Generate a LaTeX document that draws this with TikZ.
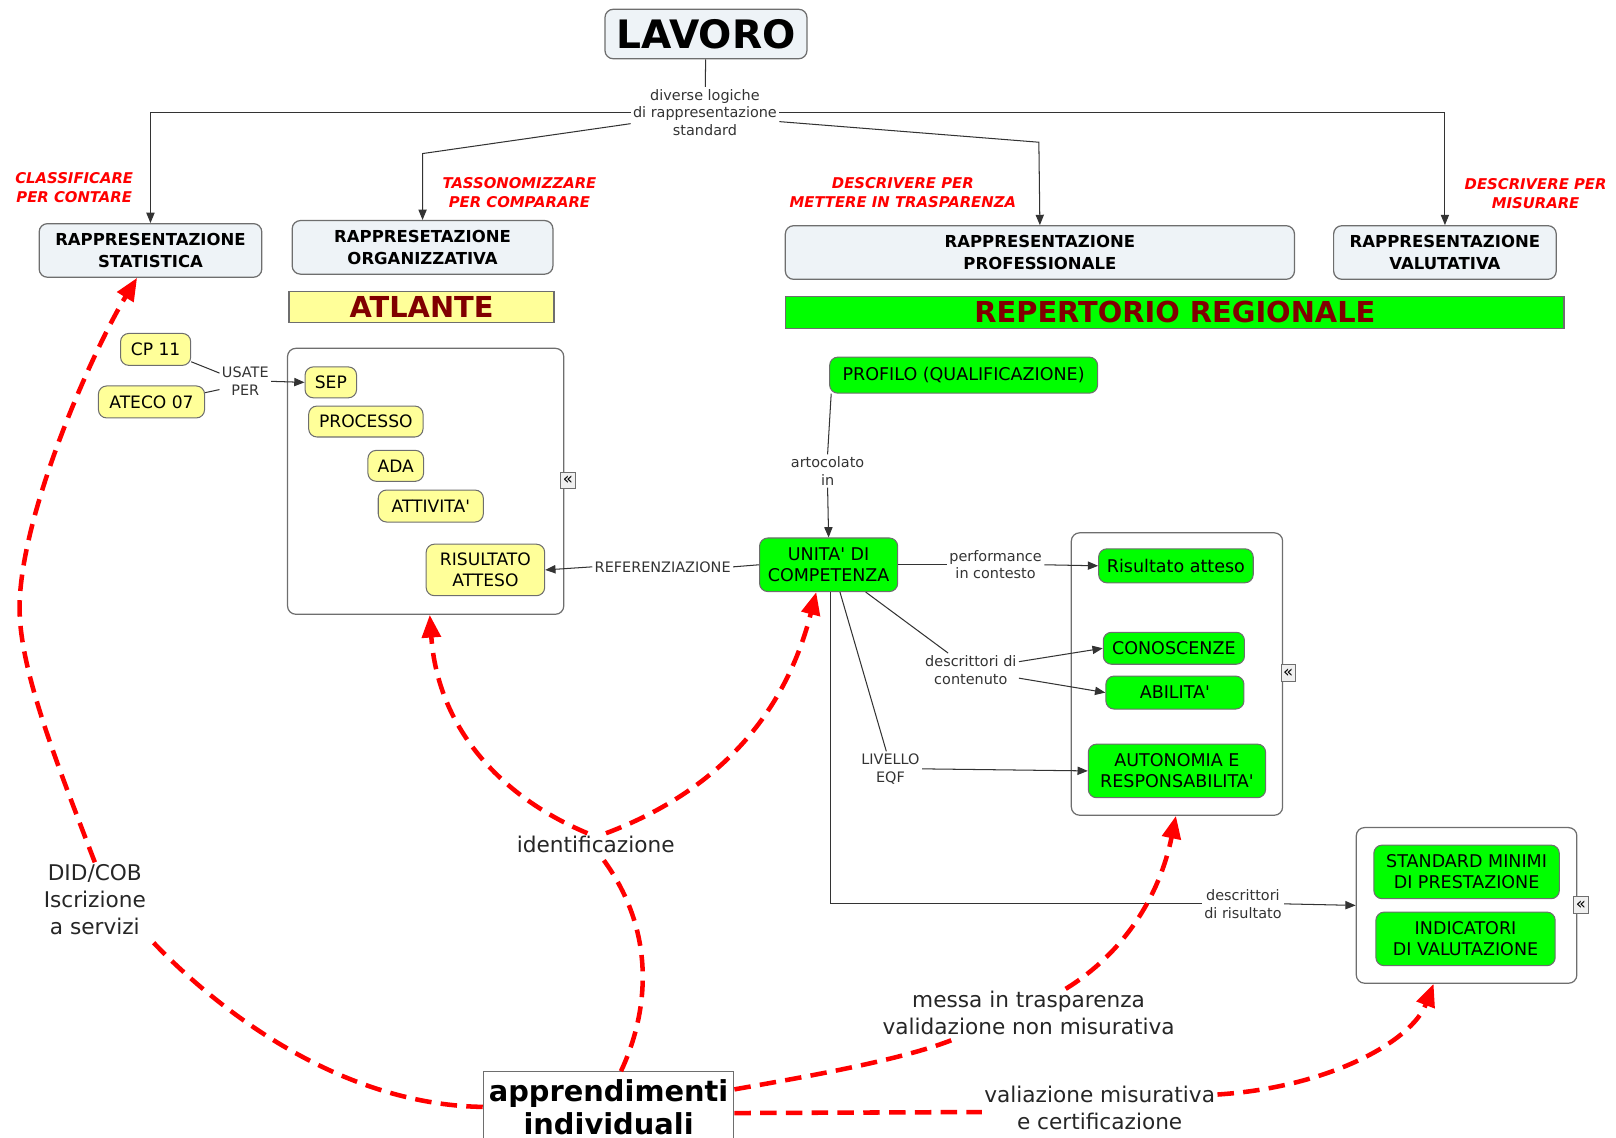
\documentclass[tikz,border=0pt]{standalone}
\usepackage{fontspec}
\setmainfont{DejaVu Sans}[Ligatures=TeXOff]
\usepackage{xcolor}
\usepackage{tikz}
\usetikzlibrary{arrows.meta}
\definecolor{headfill}{HTML}{EEF3F7}
\definecolor{yelfill}{HTML}{FFFF99}
\definecolor{grnfill}{HTML}{00FF00}
\definecolor{bannertext}{HTML}{800000}
\definecolor{boxgray}{HTML}{6E6E6E}
\definecolor{linkgray}{HTML}{333333}
\definecolor{flowred}{HTML}{FF0000}

\tikzset{%
headbox/.style={draw=boxgray, fill=headfill, rounded corners=4pt, line width=0.6pt, align=center, inner sep=0pt, font=\bfseries\fontsize{8}{10.5}\selectfont},%
yelbox/.style={draw=boxgray, fill=yelfill, rounded corners=4pt, line width=0.5pt, align=center, inner sep=0pt, font=\fontsize{8.3}{10}\selectfont},%
grnbox/.style={draw=boxgray, fill=grnfill, rounded corners=4pt, line width=0.5pt, align=center, inner sep=0pt, font=\fontsize{8.5}{10}\selectfont},%
banner/.style={draw=boxgray, line width=0.6pt, inner sep=0pt, text=bannertext, font=\bfseries\fontsize{14}{14}\selectfont},%
groupbox/.style={draw=boxgray, rounded corners=4pt, line width=0.6pt},%
expicon/.style={draw=boxgray, fill=gray!12, inner sep=0pt, minimum width=7pt, minimum height=8pt, font=\fontsize{8}{8}\selectfont},%
linklbl/.style={align=center, inner sep=1pt, text=linkgray, font=\fontsize{7}{8.5}\selectfont},%
goallbl/.style={align=center, inner sep=0pt, text=flowred, font=\bfseries\itshape\fontsize{7.2}{9}\selectfont},%
flowlbl/.style={align=center, inner sep=1pt, text=black!85, font=\fontsize{10.5}{13}\selectfont},%
conn/.style={draw=linkgray, line width=0.5pt},%
connarr/.style={conn, -{Triangle[length=5pt,width=4pt]}},%
reddash/.style={draw=flowred, line width=2.2pt, dash pattern=on 8pt off 4.5pt},%
reddasharr/.style={reddash, -{Triangle[length=11pt,width=9pt]}}%
}

\begin{document}
\begin{tikzpicture}[x=0.5pt, y=-0.5pt]%
\useasboundingbox (0, 0) rectangle (1568, 1104);%
% top
\node[headbox, minimum width=98pt, minimum height=24pt, font=\bfseries\fontsize{19}{19}\selectfont] (lavoro) at (685, 33) {LAVORO};%
\node[linklbl] (lavlink) at (684, 109) {diverse logiche\\di rappresentazione\\standard};%
\node[headbox, minimum width=108pt, minimum height=26pt] (stat) at (146, 243) {RAPPRESENTAZIONE\\STATISTICA};%
\node[headbox, minimum width=126.5pt, minimum height=26pt] (org) at (410, 240) {RAPPRESETAZIONE\\ORGANIZZATIVA};%
\node[headbox, minimum width=247pt, minimum height=26pt] (prof) at (1009, 245) {RAPPRESENTAZIONE\\PROFESSIONALE};%
\node[headbox, minimum width=108pt, minimum height=26pt] (val) at (1402, 245) {RAPPRESENTAZIONE\\VALUTATIVA};%
\node[goallbl] (gstat) at (72, 182) {CLASSIFICARE\\PER CONTARE};%
\node[goallbl] (gorg) at (504, 187) {TASSONOMIZZARE\\PER COMPARARE};%
\node[goallbl] (gprof) at (876, 187) {DESCRIVERE PER\\METTERE IN TRASPARENZA};%
\node[goallbl] (gval) at (1490, 188) {DESCRIVERE PER\\MISURARE};%
\coordinate (orgbend) at (410, 149);%
\coordinate (profbend) at (1008, 138);%
\draw[conn] (lavoro) -- (lavlink);%
\draw[connarr] (lavlink.west) -| (stat.north);%
\draw[connarr] ([yshift=-5.5pt]lavlink.west) -- (orgbend) -- (org.north);%
\draw[connarr] ([yshift=-4.5pt]lavlink.east) -- (profbend) -- (prof.north);%
\draw[connarr] (lavlink.east) -| (val.north);%
% atlante
\node[banner, fill=yelfill, minimum width=128.5pt, minimum height=15pt] (atlante) at (409, 298) {ATLANTE};%
\node[groupbox, minimum width=134pt, minimum height=129pt] (atlcont) at (413, 467) {};%
\node[expicon] (atlicon) at (551, 466) {«};%
\node[yelbox, minimum width=34pt, minimum height=15.5pt] (cp11) at (151, 339) {CP 11};%
\node[yelbox, minimum width=51.5pt, minimum height=15.5pt] (ateco) at (147, 390) {ATECO 07};%
\node[linklbl] (usate) at (238, 370) {USATE\\PER};%
\node[yelbox, minimum width=25pt, minimum height=15pt] (sep) at (321, 371) {SEP};%
\node[yelbox, minimum width=55.5pt, minimum height=15pt] (processo) at (355, 409) {PROCESSO};%
\node[yelbox, minimum width=27pt, minimum height=15pt] (ada) at (384, 452) {ADA};%
\node[yelbox, minimum width=51pt, minimum height=15.5pt] (attivita) at (418, 491) {ATTIVITA'};%
\node[yelbox, minimum width=57.5pt, minimum height=25pt] (risatt) at (471, 553) {RISULTATO\\ATTESO};%
\draw[conn] ([yshift=2pt]cp11.south east) -- ([yshift=4pt]usate.west);%
\draw[conn] ([yshift=4.5pt]ateco.east) -- ([yshift=-4pt]usate.west);%
\draw[connarr] (usate.east) -- (sep.west);%
% repertorio
\node[banner, fill=grnfill, minimum width=377.5pt, minimum height=15.5pt] (reper) at (1140, 303) {REPERTORIO REGIONALE};%
\node[grnbox, minimum width=130pt, minimum height=17.5pt] (profilo) at (935, 364) {PROFILO (QUALIFICAZIONE)};%
\node[linklbl] (artic) at (803, 457) {artocolato\\in};%
\node[grnbox, minimum width=67pt, minimum height=26pt] (unita) at (804, 548) {UNITA' DI\\COMPETENZA};%
\node[linklbl] (refer) at (643, 550) {REFERENZIAZIONE};%
\node[groupbox, minimum width=102.5pt, minimum height=137pt] (compcont) at (1142, 654) {};%
\node[expicon] (compicon) at (1250, 653) {«};%
\node[grnbox, minimum width=75pt, minimum height=16.5pt] (risatt2) at (1141, 549) {Risultato atteso};%
\node[grnbox, minimum width=68.5pt, minimum height=15.5pt] (conosc) at (1139, 629) {CONOSCENZE};%
\node[grnbox, minimum width=67pt, minimum height=16pt] (abil) at (1140, 672) {ABILITA'};%
\node[grnbox, minimum width=86pt, minimum height=26pt] (auton) at (1142, 748) {AUTONOMIA E\\RESPONSABILITA'};%
\node[linklbl] (perf) at (966, 548) {performance\\in contesto};%
\node[linklbl] (desccont) at (942, 650) {descrittori di\\contenuto};%
\node[linklbl] (liv) at (864, 746) {LIVELLO\\EQF};%
\node[linklbl] (descris) at (1206, 877) {descrittori\\di risultato};%
\node[groupbox, minimum width=107pt, minimum height=75.5pt] (valcont) at (1423, 878.5) {};%
\node[expicon] (valicon) at (1534, 878) {«};%
\node[grnbox, minimum width=90pt, minimum height=26pt] (stdmin) at (1423, 846) {STANDARD MINIMI\\DI PRESTAZIONE};%
\node[grnbox, minimum width=87pt, minimum height=26pt] (indic) at (1422, 911) {INDICATORI\\DI VALUTAZIONE};%
\draw[conn] ([xshift=1pt]profilo.south west) -- (artic.north);%
\draw[connarr] (artic.south) -- (unita.north);%
\draw[conn] (unita.west) -- (refer.east);%
\draw[connarr] (refer.west) -- (risatt.east);%
\draw[conn] (unita.east) -- (perf.west);%
\draw[connarr] (perf.east) -- (risatt2.west);%
\draw[conn] ([xshift=18pt]unita.south) -- ([xshift=-11pt]desccont.north);%
\draw[connarr] ([yshift=4pt]desccont.east) -- (conosc.west);%
\draw[connarr] ([yshift=-4pt]desccont.east) -- (abil.west);%
\draw[conn] ([xshift=5.5pt]unita.south) -- ([xshift=-2pt]liv.north);%
\draw[connarr] (liv.east) -- (auton.west);%
\draw[conn] ([xshift=1pt]unita.south) |- (descris.west);%
\draw[connarr] (descris.east) -- (valcont.west);%
% apprendimenti
\node[draw=boxgray, fill=white, line width=0.6pt, minimum width=121.5pt, minimum height=34pt, inner sep=0pt, align=center, font=\bfseries\fontsize{14}{16}\selectfont] (appr) at (590.5, 1074) {apprendimenti\\individuali};%
\node[flowlbl] (did) at (92, 873) {DID/COB\\Iscrizione\\a servizi};%
\node[flowlbl] (ident) at (578, 819) {identificazione};%
\node[flowlbl] (messa) at (998, 983) {messa in trasparenza\\validazione non misurativa};%
\node[flowlbl] (valiaz) at (1067, 1075) {valiazione misurativa\\e certificazione};%
\draw[reddash] (appr.west) .. controls (330, 1072) and (210, 980) .. (did.south east);%
\draw[reddasharr] (did.north) .. controls (55, 740) and (19, 650) .. (19, 590) .. controls (19, 500) and (90, 340) .. ([xshift=-6.5pt]stat.south);%
\draw[reddash] ([xshift=6pt]appr.north) .. controls (628, 985) and (640, 905) .. ([xshift=2pt]ident.south);%
\draw[reddasharr] ([xshift=-4pt]ident.north) .. controls (490, 775) and (425, 710) .. ([xshift=2pt]atlcont.south);%
\draw[reddasharr] ([xshift=5pt]ident.north) .. controls (690, 770) and (760, 700) .. ([xshift=-6pt]unita.south);%
\draw[reddash] ([yshift=8.5pt]appr.east) .. controls (780, 1045) and (880, 1028) .. ([xshift=-34pt]messa.south);%
\draw[reddasharr] ([xshift=18pt]messa.north) .. controls (1090, 925) and (1125, 870) .. ([xshift=-0.5pt]compcont.south);%
\draw[reddash] ([yshift=-3pt]appr.east) -- ([yshift=-2pt]valiaz.west);%
\draw[reddasharr] ([yshift=6.5pt]valiaz.east) .. controls (1290, 1055) and (1370, 1010) .. ([xshift=-16pt]valcont.south);%
\end{tikzpicture}
\end{document}
